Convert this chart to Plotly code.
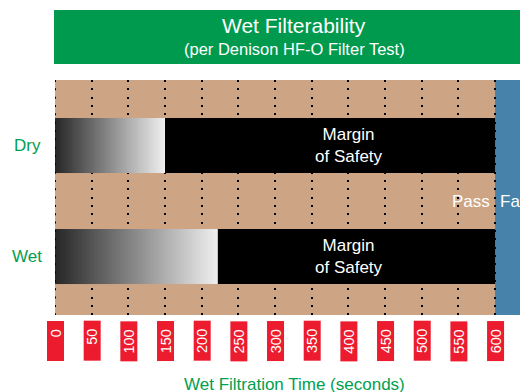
import numpy as np
import plotly.graph_objects as go

# ---- data ----
conditions = ["Dry", "Wet"]
filtration_time = [150, 222]          # seconds, measured for each condition
pass_limit = 600                      # seconds; above this the filter test fails
tick_values = [0, 50, 100, 150, 200, 250, 300, 350, 400, 450, 500, 550, 600]
tick_labels = ["0", "50", "100", "150", "200", "250", "300", "350", "400",
               "450", "500", "550", "600"]
title_text = "Wet Filterability"
subtitle_text = "(per Denison HF-O Filter Test)"
axis_title = "Wet Filtration Time (seconds)"
margin_text = "Margin<br>of Safety"

# ---- styling ----
FONT = "Liberation Sans, Arial, Helvetica, sans-serif"
GREEN = "#009A4E"
GREEN_TEXT = "#00A050"
TAN = "#CDA584"
BLUE = "#4682AA"
RED = "#EC1C2E"
X_RANGE = [0, 634]
Y_RANGE = [-0.527, 1.59]
BAR_W = 0.495
DOTS = "2px,6.33px"
NBSP = "\u00a0"

# layout geometry in pixels
W, H = 520, 392
M_L, M_R, M_T, M_B = 55, 0, 80, 77
PLOT_H = H - M_T - M_B
PLOT_W = W - M_L - M_R


def py(pix):
    """paper y for a pixel row"""
    return (H - M_B - pix) / PLOT_H


def px(pix):
    """paper x for a pixel column"""
    return (pix - M_L) / PLOT_W


# Dry sits on top (y=1), Wet below (y=0)
y_pos = {"Dry": 1, "Wet": 0}

fig = go.Figure()

# gradient portion of each bar (dark -> light) as a thin heatmap strip
for name, val in zip(conditions, filtration_time):
    yc = y_pos[name]
    n = 120
    xe = np.linspace(0, val, n + 1)
    xc = (xe[:-1] + xe[1:]) / 2
    fig.add_trace(go.Heatmap(
        x=xe, y=[yc - BAR_W / 2, yc + BAR_W / 2], z=[xc],
        zmin=0, zmax=val,
        colorscale=[[0, "#262626"], [1, "#F0F0F0"]],
        showscale=False, hoverinfo="skip",
    ))

# black "margin of safety" portion, from measured time up to the pass limit
fig.add_trace(go.Bar(
    y=[y_pos[c] for c in conditions],
    x=[pass_limit - v for v in filtration_time],
    base=filtration_time,
    orientation="h",
    width=BAR_W,
    marker=dict(color="black", line=dict(width=0)),
    hoverinfo="skip",
    showlegend=False,
))

# dotted line along the zero edge, drawn over the bars
fig.add_trace(go.Scatter(
    x=[tick_values[0], tick_values[0]], y=[Y_RANGE[1], Y_RANGE[0]],
    mode="lines", line=dict(color="black", width=2, dash=DOTS),
    cliponaxis=False, hoverinfo="skip", showlegend=False,
))

shapes = []
annotations = []

# fail region beyond the limit
shapes.append(dict(type="rect", xref="x", yref="paper", x0=pass_limit, x1=X_RANGE[1],
                   y0=0, y1=1, fillcolor=BLUE, line=dict(width=0), layer="below"))

# title banner
shapes.append(dict(type="rect", xref="paper", yref="paper", x0=px(54), x1=1,
                   y0=py(64), y1=py(10), fillcolor=GREEN, line=dict(width=0)))
annotations.append(dict(text=title_text, xref="paper", yref="paper",
                        x=px(294), y=py(25.5), xanchor="center", yanchor="middle",
                        showarrow=False, font=dict(family=FONT, size=21, color="white")))
annotations.append(dict(text=subtitle_text, xref="paper", yref="paper",
                        x=px(294), y=py(49), xanchor="center", yanchor="middle",
                        showarrow=False, font=dict(family=FONT, size=16.5, color="white")))

# category labels and margin notes
for name in conditions:
    annotations.append(dict(text=name, xref="paper", yref="y", x=px(27), y=y_pos[name],
                            xanchor="center", yanchor="middle", showarrow=False,
                            font=dict(family=FONT, size=17, color=GREEN_TEXT)))
    annotations.append(dict(text=margin_text, xref="x", yref="y", x=401, y=y_pos[name],
                            xanchor="center", yanchor="middle", showarrow=False,
                            font=dict(family=FONT, size=17, color="white")))

# pass / fail labels at the limit
annotations.append(dict(text="Pass", xref="x", yref="y", x=pass_limit, y=0.5,
                        xanchor="right", yanchor="middle", xshift=-3, showarrow=False,
                        font=dict(family=FONT, size=17, color="white")))
annotations.append(dict(text="Fail", xref="x", yref="y", x=pass_limit, y=0.5,
                        xanchor="left", yanchor="middle", xshift=3, showarrow=False,
                        font=dict(family=FONT, size=17, color="white")))

# red tick tags with rotated labels
for tv, tl in zip(tick_values, tick_labels):
    annotations.append(dict(text=tl + NBSP * 2, xref="x", yref="paper", x=tv, y=0,
                            xanchor="center", yanchor="top", yshift=-6,
                            textangle=-90, showarrow=False,
                            width=40, height=17, align="right", valign="middle",
                            bgcolor=RED, borderpad=0, borderwidth=0,
                            font=dict(family=FONT, size=14.5, color="white")))

# axis title
annotations.append(dict(text=axis_title, xref="paper", yref="paper",
                        x=px(294.5), y=py(384.5), xanchor="center", yanchor="middle",
                        showarrow=False, font=dict(family=FONT, size=17, color=GREEN_TEXT)))

fig.update_layout(
    width=W, height=H,
    margin=dict(l=M_L, r=M_R, t=M_T, b=M_B, pad=0),
    paper_bgcolor="white",
    plot_bgcolor=TAN,
    showlegend=False,
    hovermode=False,
    shapes=shapes,
    annotations=annotations,
    xaxis=dict(range=X_RANGE, tickvals=tick_values, showticklabels=False,
               ticks="", showgrid=True, gridcolor="black", gridwidth=2,
               griddash=DOTS, zeroline=False, showline=False, fixedrange=True),
    yaxis=dict(range=Y_RANGE, showticklabels=False, ticks="",
               showgrid=False, zeroline=False, showline=False, fixedrange=True),
)

fig.write_html("out.html", config={"displayModeBar": False})
